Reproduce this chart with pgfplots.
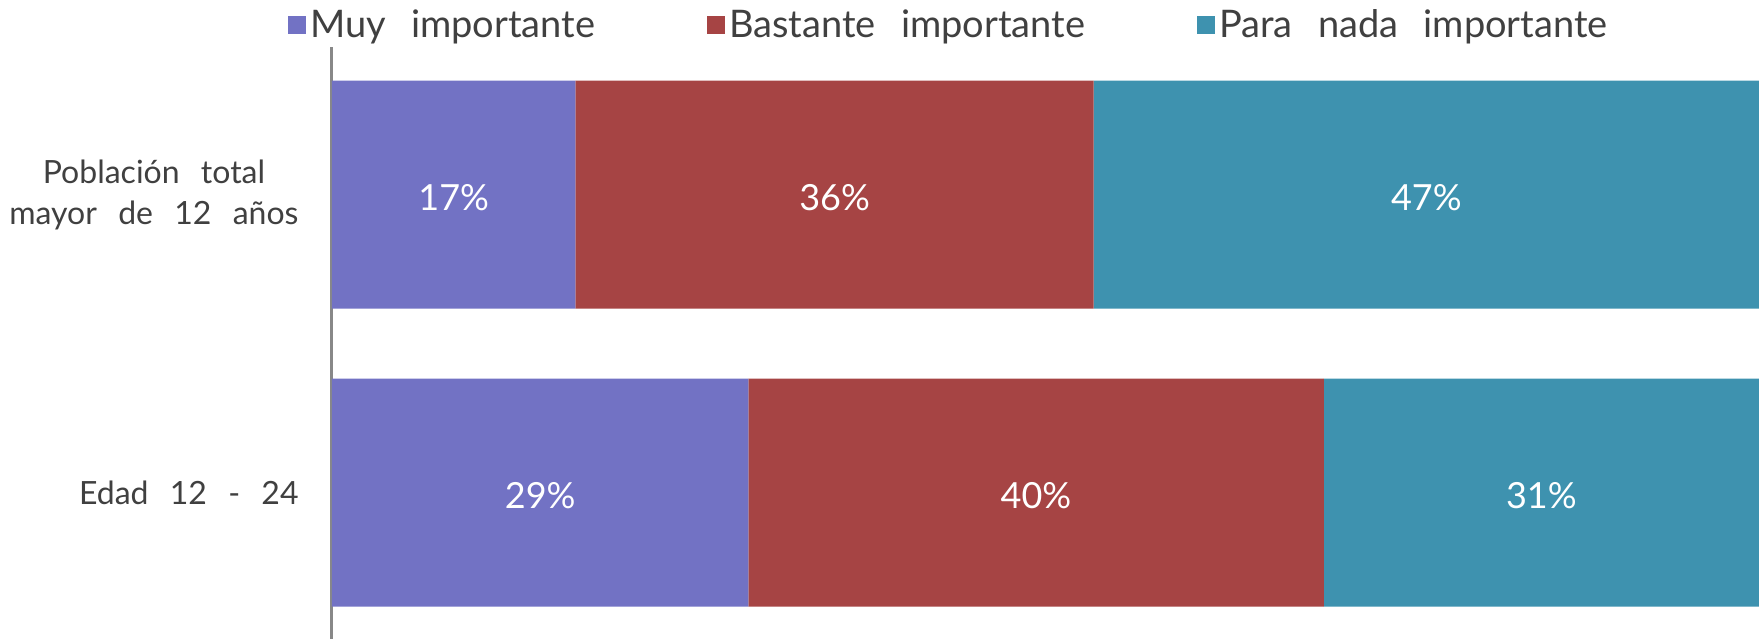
\documentclass[border=0pt]{standalone}
\usepackage{pgfplots}
\pgfplotsset{compat=1.18}
\usepackage{fontspec}
\setmainfont{Lato}[WordSpace=2.6]
\definecolor{cMuy}{RGB}{114,114,196}
\definecolor{cBas}{RGB}{166,68,68}
\definecolor{cPara}{RGB}{62,146,175}
\definecolor{txt}{RGB}{64,64,64}
\definecolor{axgray}{RGB}{136,136,136}
\begin{document}
\begin{tikzpicture}
\pgfplotsset{base/.style={
    at={(0,0)}, anchor=south west, scale only axis,
    width=713.5pt, height=296pt,
    xmin=0, xmax=100, ymin=-0.495, ymax=1.4916, y dir=reverse}}
\begin{axis}[
    base,
    xbar stacked, bar width=114pt,
    axis x line=none, axis y line*=left,
    y axis line style={line width=1.5pt, color=axgray},
    ytick={0,1},
    yticklabels={{Población total\\mayor de 12 años},{Edad 12 - 24}},
    yticklabel style={align=center, inner sep=0pt, xshift=-16.5pt,
        font=\fontsize{16}{20.5}\selectfont, text=txt},
    major tick length=0pt,
    legend columns=3,
    legend cell align=left,
    legend image code/.code={\fill[#1] (-3pt,-4.5pt) rectangle (6pt,4.5pt);},
    legend style={draw=none, fill=none, at={(-0.031,1.037)}, anchor=west,
        inner sep=0pt, font=\fontsize{19}{22}\selectfont, text=txt,
        /tikz/every even column/.append style={column sep=54pt}},
]
\addplot[fill=cMuy, draw=none] coordinates {(17.06,0) (29.17,1)};
\addplot[fill=cBas, draw=none] coordinates {(36.32,0) (40.33,1)};
\addplot[fill=cPara, draw=none] coordinates {(46.62,0) (30.50,1)};
\legend{Muy importante, Bastante importante, Para nada importante}
\end{axis}
\begin{axis}[base, hide axis]
\addplot[draw=none, mark=none, nodes near coords, point meta=explicit symbolic,
    nodes near coords style={anchor=center, yshift=-1.5pt, text=white,
        font=\fontsize{18}{21}\selectfont}]
    coordinates {(8.53,0)[17\%] (35.22,0)[36\%] (76.69,0)[47\%]
                 (14.59,1)[29\%] (49.33,1)[40\%] (84.75,1)[31\%]};
\end{axis}
\pgfresetboundingbox
\useasboundingbox (-166pt,0pt) rectangle (713.5pt,319.5pt);
\end{tikzpicture}
\end{document}
